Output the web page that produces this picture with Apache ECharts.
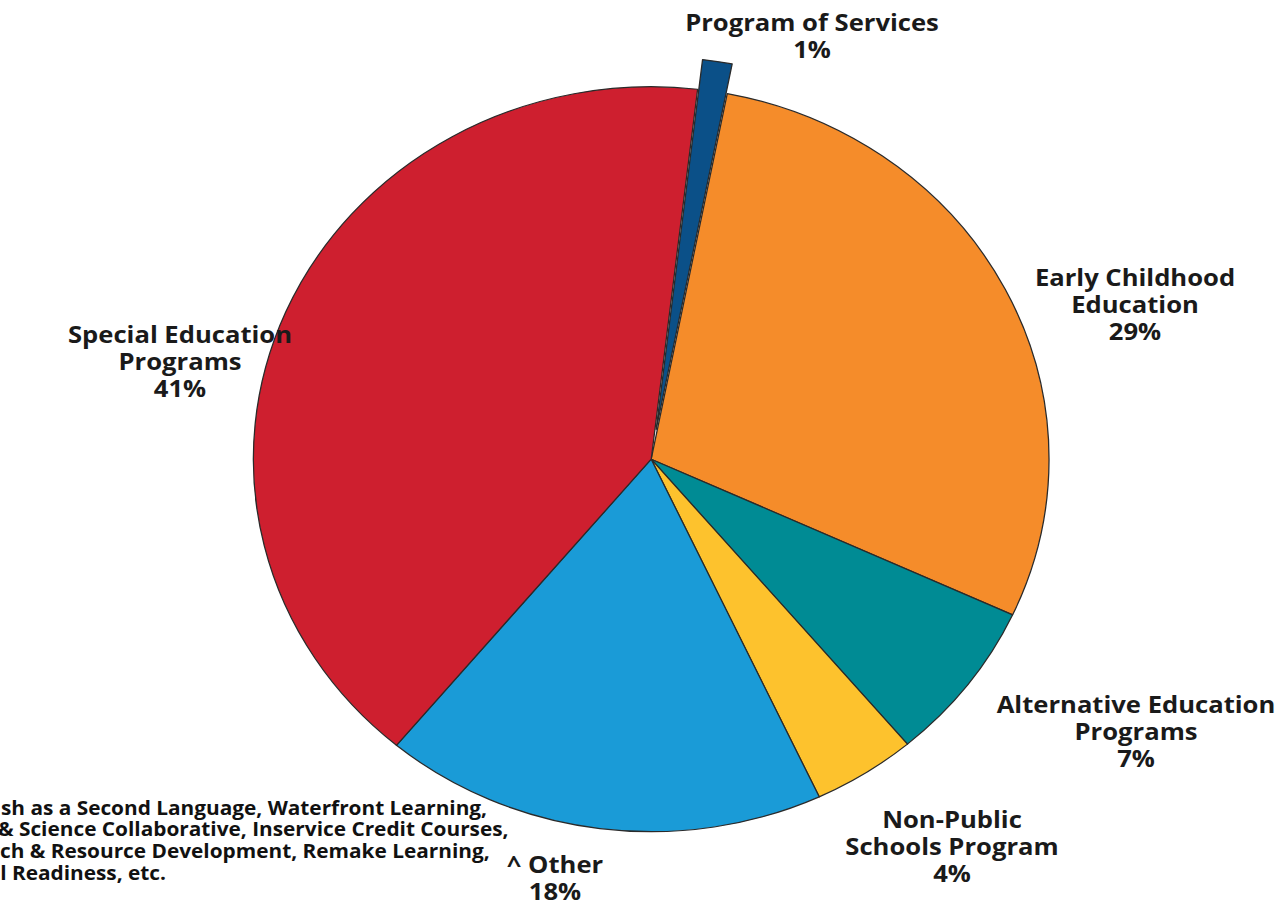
<!DOCTYPE html>
<html>
<head>
<meta charset="utf-8">
<script src="https://cdn.jsdelivr.net/npm/echarts@6/dist/echarts.min.js"></script>
<style>
html,body{margin:0;padding:0;background:#fff;overflow:hidden;width:1283px;height:907px;}
#chart{position:absolute;left:0;top:0;width:1201px;height:907px;transform:scaleX(1.068);transform-origin:0 0;}
</style>
</head>
<body>
<div id="chart"></div>
<script>
// ---- data ----
const categories = [
  'Program of Services',
  'Early Childhood\nEducation',
  'Alternative Education\nPrograms',
  'Non-Public\nSchools Program',
  '^ Other',
  'Special Education\nPrograms'
];
const values = [1.2, 28.8, 7.0, 4.2, 18.0, 40.8];
const colors = ['#0B5088', '#F58C2A', '#008B94', '#FDC22D', '#1A9BD7', '#CE1F2F'];
const footnotePrefixes = ['Engli', 'Math ', 'Resear', 'School '];
const footnoteRest = [
  'sh as a Second Language, Waterfront Learning,',
  '& Science Collaborative, Inservice Credit Courses,',
  'ch & Resource Development, Remake Learning,',
  'Readiness, etc.'
];

// ---- layout (reference pixel coordinates; picture is stretched horizontally) ----
const SX = 1.068;
const labelAnchors = [[812, 35], [1135, 303], [1136, 730], [952, 845], [555, 877], [180, 360]];
const footVisibleStart = [1, -2, 0, 12];
const footTop = 807;
const footLineH = 21.7;

const font = '"Open Sans", "Noto Sans", sans-serif';
const labelFont = '700 24px ' + font;
const footFont = '700 19.5px ' + font;

const measureCtx = document.createElement('canvas').getContext('2d');
function textW(t, f) { measureCtx.font = f; return measureCtx.measureText(t).width; }

const total = values.reduce((a, b) => a + b, 0);

const chart = echarts.init(document.getElementById('chart'), null, {renderer: 'svg'});

const labelGraphics = categories.map((c, i) => ({
  type: 'text',
  x: labelAnchors[i][0] / SX,
  y: labelAnchors[i][1],
  z: 100,
  silent: true,
  style: {
    text: c + '\n' + Math.round(values[i] / total * 100) + '%',
    font: labelFont,
    lineHeight: 27,
    fill: '#1a1a1a',
    align: 'center',
    verticalAlign: 'middle'
  }
}));

const footGraphics = footnoteRest.map((t, i) => ({
  type: 'text',
  x: footVisibleStart[i] / SX - textW(footnotePrefixes[i], footFont),
  y: footTop + i * footLineH,
  z: 100,
  silent: true,
  style: {
    text: footnotePrefixes[i] + t,
    font: footFont,
    fill: '#111',
    align: 'left',
    verticalAlign: 'middle'
  }
}));

chart.setOption({
  animation: false,
  series: [{
    type: 'pie',
    z: 2,
    center: [651.2 / SX, 459.2],
    radius: 372.5,
    startAngle: 83.3,
    clockwise: true,
    selectedMode: 'single',
    selectedOffset: 30,
    itemStyle: {borderColor: '#2a2a2a', borderWidth: 1.2},
    emphasis: {disabled: true},
    select: {itemStyle: {borderColor: '#2a2a2a', borderWidth: 1.2}},
    label: {show: false},
    labelLine: {show: false},
    data: categories.map((c, i) => ({
      name: c,
      value: values[i],
      selected: i === 0,
      itemStyle: {color: colors[i]}
    }))
  }],
  graphic: labelGraphics.concat(footGraphics)
});
</script>
</body>
</html>
